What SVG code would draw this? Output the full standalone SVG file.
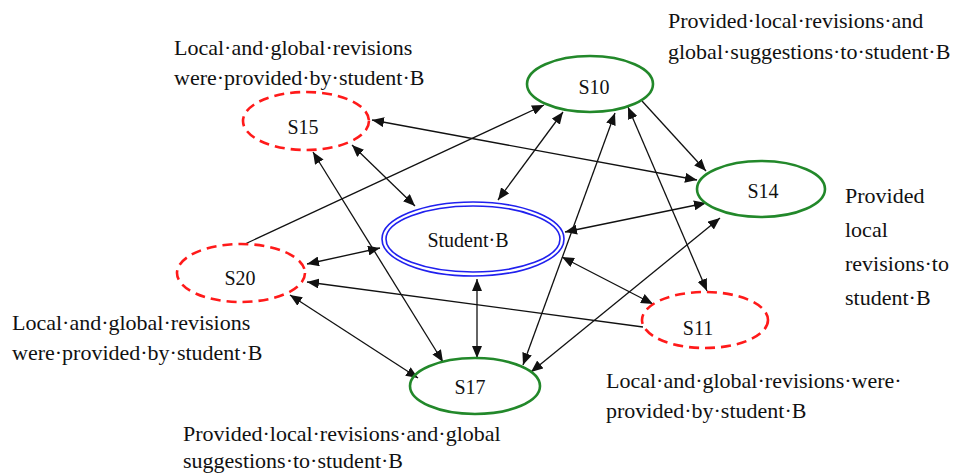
<svg xmlns="http://www.w3.org/2000/svg" width="953" height="474" viewBox="0 0 953 474">
<style>
text{font-family:"Liberation Serif","Times New Roman",serif;fill:#111}
.lbl{font-size:20px;text-anchor:middle}
.note{font-size:22px}
.green{fill:none;stroke:#22882a;stroke-width:2.6}
.red{fill:none;stroke:#ff1a1a;stroke-width:2.6;stroke-dasharray:10 6}
.blue{fill:none;stroke:#2020ee;stroke-width:1.6}
.edge line{stroke:#111;stroke-width:1.3}
.both{marker-start:url(#ah);marker-end:url(#ah)}
.one{marker-end:url(#ah)}
</style>
<defs>
<marker id="ah" viewBox="0 0 12 10" refX="12" refY="5" markerWidth="12" markerHeight="10" markerUnits="userSpaceOnUse" orient="auto-start-reverse">
<path d="M0,0 L12,5 L0,10 Z" fill="#111"/>
</marker>
</defs>
<rect width="953" height="474" fill="#fff"/>
<g id="connectors" class="edge">
<line class="both" x1="372" y1="120" x2="697" y2="180"/>
<line class="both" x1="352" y1="145" x2="415" y2="206"/>
<line class="both" x1="313" y1="152" x2="443" y2="362"/>
<line class="one" x1="245" y1="244" x2="544" y2="105"/>
<line class="both" x1="563" y1="112" x2="498" y2="200"/>
<line class="both" x1="615" y1="113" x2="523" y2="365"/>
<line class="both" x1="628" y1="107" x2="707" y2="291"/>
<line class="one" x1="642" y1="101" x2="706" y2="171"/>
<line class="both" x1="565" y1="232" x2="706" y2="203"/>
<line class="both" x1="562" y1="257" x2="653" y2="304"/>
<line class="one" x1="643" y1="327" x2="307" y2="282"/>
<line class="both" x1="380" y1="248" x2="307" y2="264"/>
<line class="both" x1="290" y1="295" x2="418" y2="378"/>
<line class="both" x1="477" y1="279" x2="477" y2="358"/>
<line class="both" x1="720" y1="218" x2="531" y2="372"/>
</g>
<g id="S15">
<ellipse class="red" cx="306" cy="121" rx="63" ry="29"/>
<text class="lbl" x="303" y="134">S15</text>
</g>
<g id="S10">
<ellipse class="green" cx="590" cy="84" rx="63" ry="28"/>
<text class="lbl" x="594" y="94">S10</text>
</g>
<g id="S14">
<ellipse class="green" cx="761" cy="189" rx="64" ry="28"/>
<text class="lbl" x="763" y="198">S14</text>
</g>
<g id="StudentB">
<ellipse class="blue" cx="473" cy="239" rx="91" ry="37"/>
<ellipse class="blue" cx="473" cy="239" rx="87" ry="33"/>
<text class="lbl" x="468" y="247">Student·B</text>
</g>
<g id="S20">
<ellipse class="red" cx="241" cy="273" rx="64" ry="29"/>
<text class="lbl" x="240" y="285">S20</text>
</g>
<g id="S11">
<ellipse class="red" cx="705" cy="320" rx="63" ry="28"/>
<text class="lbl" x="698" y="335">S11</text>
</g>
<g id="S17">
<ellipse class="green" cx="475" cy="386" rx="65" ry="28"/>
<text class="lbl" x="470" y="394">S17</text>
</g>
<g id="notes">
<text class="note" x="174" y="55">Local·and·global·revisions</text>
<text class="note" x="174" y="85">were·provided·by·student·B</text>
<text class="note" x="668" y="28">Provided·local·revisions·and</text>
<text class="note" x="668" y="59">global·suggestions·to·student·B</text>
<text class="note" x="845" y="203">Provided</text>
<text class="note" x="845" y="237">local</text>
<text class="note" x="845" y="271">revisions·to</text>
<text class="note" x="845" y="305">student·B</text>
<text class="note" x="12" y="330">Local·and·global·revisions</text>
<text class="note" x="12" y="360">were·provided·by·student·B</text>
<text class="note" x="606" y="388">Local·and·global·revisions·were·</text>
<text class="note" x="606" y="418">provided·by·student·B</text>
<text class="note" x="183" y="441">Provided·local·revisions·and·global</text>
<text class="note" x="183" y="468">suggestions·to·student·B</text>
</g>
</svg>
